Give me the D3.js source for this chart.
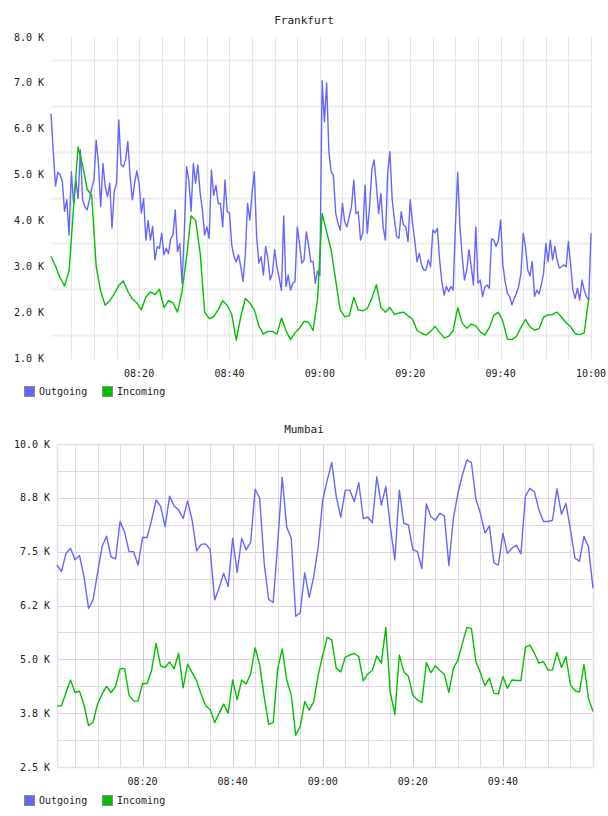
<!DOCTYPE html>
<html><head><meta charset="utf-8">
<script src="https://cdn.jsdelivr.net/npm/d3@7"></script>
<style>
html,body{margin:0;padding:0;background:#fff;}
text{font-family:"DejaVu Sans Mono",monospace;}
</style></head>
<body><svg id="c" width="608" height="816"></svg>
<script>
// ---------------- DATA ----------------
const seriesNames = ["Outgoing", "Incoming"];
const seriesColors = ["#6666ff", "#00c000"];

// Frankfurt: outgoing sampled every 30 s, incoming every 60 s, from 08:00:30
const fraStart = "08:00:30";
const fraOutgoing = [
6.33,5.5,4.75,5.05,5.0,4.85,4.2,4.45,3.68,5.06,
4.37,4.88,4.48,5.54,4.45,4.3,4.23,4.45,4.7,4.88,
5.75,5.24,4.3,5.24,4.74,4.52,4.81,3.83,4.63,4.81,
6.19,5.21,5.17,5.32,5.72,4.97,4.45,4.81,5.08,4.81,
4.16,4.48,3.57,4.0,3.57,3.87,3.14,3.43,3.39,3.72,
3.25,3.39,3.28,3.61,3.68,4.23,3.32,3.5,2.63,3.72,
5.17,4.88,4.2,5.24,4.81,5.21,4.6,4.23,3.68,3.86,
3.61,5.1,4.55,4.77,4.37,4.37,3.86,4.88,4.19,4.16,
3.46,3.21,3.1,3.25,2.99,2.67,3.25,4.37,4.01,4.59,
5.06,3.65,3.07,3.21,2.81,3.43,3.17,2.7,2.85,3.36,
2.99,2.74,2.47,4.1,2.56,2.81,2.48,2.63,2.67,3.86,
3.5,3.07,3.14,3.75,3.46,3.1,3.1,2.63,2.9,2.8,
7.05,6.15,7.0,5.5,5.06,4.99,4.16,3.94,3.79,4.37,
3.97,3.86,4.08,4.3,4.88,4.15,4.19,3.57,3.72,4.77,
3.72,4.3,5.1,5.32,4.77,4.15,4.59,3.86,3.57,5.03,
5.5,4.45,4.02,3.65,3.61,4.19,3.9,3.86,3.54,4.45,
3.94,3.57,3.1,3.28,3.03,2.92,2.92,3.14,2.99,3.79,
3.73,3.83,3.14,2.66,2.37,2.56,2.45,2.56,2.48,3.9,
5.05,3.86,3.21,2.7,2.92,3.36,2.99,2.59,3.86,2.63,
2.7,2.34,2.54,2.59,2.52,3.6,3.57,3.43,3.57,4.01,
3.03,2.66,2.41,2.34,2.16,2.3,2.41,2.56,2.85,3.72,
3.43,2.92,2.79,3.1,2.34,2.48,2.4,2.59,2.85,3.5,
3.1,3.57,3.14,3.43,3.14,2.96,2.99,3.03,2.99,3.54,
3.03,2.48,2.3,2.52,2.26,2.7,2.48,2.34,2.26,3.72];
const fraIncoming = [
3.22,3.0,2.75,2.57,2.9,4.3,5.6,5.2,4.68,4.55,
3.0,2.45,2.15,2.25,2.4,2.58,2.68,2.45,2.29,2.2,
2.05,2.33,2.44,2.38,2.5,2.1,2.25,2.2,2.0,2.45,
3.2,4.1,4.0,3.3,2.0,1.86,1.9,2.05,2.25,2.15,
1.95,1.39,1.9,2.3,2.2,2.05,1.7,1.52,1.58,1.58,
1.52,1.87,1.6,1.4,1.55,1.65,1.8,1.78,1.6,2.3,
4.15,3.75,3.35,2.7,2.05,1.9,1.92,2.32,2.05,2.03,
2.08,2.3,2.6,2.1,2.0,2.1,1.95,1.98,2.0,1.92,
1.85,1.6,1.54,1.5,1.58,1.69,1.56,1.44,1.47,1.6,
2.1,1.76,1.65,1.74,1.7,1.57,1.5,1.66,1.93,2.0,
1.8,1.41,1.4,1.47,1.67,1.84,1.68,1.61,1.64,1.89,
1.94,1.95,2.0,1.89,1.77,1.68,1.53,1.51,1.55,2.3];
const fraYTicks = [1,2,3,4,5,6,7,8];
const fraYLabels = ["1.0 K","2.0 K","3.0 K","4.0 K","5.0 K","6.0 K","7.0 K","8.0 K"];
const fraXLabels = ["08:20","08:40","09:00","09:20","09:40","10:00"];

// Mumbai: both series sampled every 60 s from 08:01
const mumStart = "08:01:00";
const mumOutgoing = [
7.19,7.04,7.46,7.58,7.31,7.41,6.92,6.18,6.38,7.0,
7.62,7.86,7.38,7.33,8.2,7.96,7.5,7.5,7.19,7.83,
7.83,8.23,8.7,8.55,8.08,8.79,8.56,8.47,8.27,8.68,
8.23,7.52,7.67,7.68,7.55,6.38,6.66,7.0,6.69,7.81,
7.02,7.81,7.54,7.72,8.95,8.74,7.23,6.39,6.32,7.69,
9.23,8.07,7.81,6.0,6.08,7.01,6.44,6.92,7.62,8.7,
9.16,9.57,8.78,8.3,8.93,8.93,8.66,9.1,8.27,8.3,
8.17,9.24,8.58,9.01,8.08,7.31,8.93,8.16,8.12,7.55,
7.5,7.11,8.61,8.31,8.23,8.39,8.33,7.18,8.27,8.85,
9.28,9.63,9.57,8.72,8.39,7.93,8.1,7.24,7.19,7.93,
7.46,7.58,7.65,7.45,8.79,8.97,8.89,8.47,8.2,8.2,
8.23,8.96,8.37,8.62,8.0,7.35,7.28,7.86,7.6,6.65];
const mumIncoming = [
3.92,3.92,4.23,4.52,4.23,4.26,3.94,3.46,3.54,3.96,
4.19,4.37,4.23,4.37,4.78,4.79,4.17,4.03,4.03,4.44,
4.44,4.74,5.37,4.85,4.81,4.94,4.78,5.14,4.34,4.89,
4.69,4.5,4.19,3.92,3.84,3.53,3.75,3.96,3.75,4.52,
4.06,4.52,4.43,4.66,5.27,4.87,4.13,3.49,3.53,4.79,
5.24,4.52,4.17,3.24,3.44,4.02,3.82,4.02,4.64,5.1,
5.51,5.45,4.79,4.71,5.05,5.1,5.14,5.06,4.5,4.66,
4.74,5.08,4.91,5.74,4.23,3.72,5.1,4.71,4.61,4.17,
4.06,4.0,4.92,4.69,4.85,4.74,4.65,4.23,4.79,4.98,
5.37,5.74,5.72,4.95,4.69,4.39,4.56,4.21,4.2,4.6,
4.33,4.52,4.51,4.51,5.28,5.33,5.14,4.91,4.95,4.75,
4.75,5.16,4.81,5.06,4.4,4.27,4.24,4.88,4.09,3.79];
const mumYTicks = [2.5,3.75,5,6.25,7.5,8.75,10];
const mumYLabels = ["2.5 K","3.8 K","5.0 K","6.2 K","7.5 K","8.8 K","10.0 K"];
const mumXLabels = ["08:20","08:40","09:00","09:20","09:40"];

// ---------------- DRAW ----------------
const parseT = d3.timeParse("%H:%M:%S");
const fmtT = d3.timeFormat("%H:%M");
function times(start, n, stepSec){
  const t0 = parseT(start).getTime();
  return d3.range(n).map(i => new Date(t0 + i*stepSec*1000));
}
const svg = d3.select("#c");

function drawChart(o){
  const g = svg.append("g");
  const x = d3.scaleTime().domain(o.xDomain).range([o.left, o.right]);
  const y = d3.scaleLinear().domain(o.yDomain).range([o.bottom, o.top]);

  // title
  g.append("text").attr("x", 304).attr("y", o.titleY).attr("text-anchor","middle")
    .attr("font-size", 11).attr("fill", "#222").text(o.title);

  // grid
  const vt = x.ticks(d3.timeMinute.every(5));
  if (o.style === "gray") {
    g.selectAll(".hg").data(o.hGrid).join("line")
      .attr("x1", o.left).attr("x2", o.right+1)
      .attr("y1", d => Math.round(y(d))+0.5).attr("y2", d => Math.round(y(d))+0.5)
      .attr("stroke", "#eeeeee").attr("stroke-width", 2);
    g.selectAll(".vg").data(vt).join("line")
      .attr("x1", d => Math.round(x(d))+0.5).attr("x2", d => Math.round(x(d))+0.5)
      .attr("y1", o.top).attr("y2", o.bottom+1)
      .attr("stroke", "#e6e6e6").attr("stroke-width", 1);
  } else {
    g.selectAll(".hg").data(o.hGrid).join("line")
      .attr("x1", o.left).attr("x2", o.right)
      .attr("y1", d => Math.round(y(d))+0.5).attr("y2", d => Math.round(y(d))+0.5)
      .attr("stroke", "#e2dae2").attr("stroke-width", 1);
    g.selectAll(".hgm").data(o.yTicks).join("line")
      .attr("x1", o.left).attr("x2", o.right)
      .attr("y1", d => Math.round(y(d))+0.5).attr("y2", d => Math.round(y(d))+0.5)
      .attr("stroke", "#e4cce4").attr("stroke-width", 1);
    g.selectAll(".vg").data(vt).join("line")
      .attr("x1", d => Math.round(x(d))+0.5).attr("x2", d => Math.round(x(d))+0.5)
      .attr("y1", o.top).attr("y2", o.bottom)
      .attr("stroke", d => d.getMinutes() % 20 === 0 ? "#dcc4dc" : "#e2dae2").attr("stroke-width", 1);
    g.append("rect").attr("x", o.left+0.5).attr("y", o.top+0.5)
      .attr("width", o.right-o.left).attr("height", o.bottom-o.top)
      .attr("fill","none").attr("stroke","#eedcee").attr("stroke-width",1.5);
  }

  // y labels
  g.selectAll(".yl").data(o.yTicks).join("text")
    .attr("x", o.left-7).attr("y", d => y(d)+3.5).attr("text-anchor","end")
    .attr("font-size", 10).attr("fill", "#222")
    .text((d,i) => o.yLabels[i]);

  // x labels
  g.selectAll(".xl").data(o.xLabels).join("text")
    .attr("x", d => x(parseT(d+":00"))).attr("y", o.xLabelY).attr("text-anchor","middle")
    .attr("font-size", 10).attr("fill", "#222").text(d => d);

  // lines
  o.series.forEach((s, si) => {
    const pts = s.values.map((v,i) => [s.t[i], v]);
    const line = d3.line().x(d => x(d[0])).y(d => y(d[1]));
    g.append("path").attr("d", line(pts)).attr("fill","none")
      .attr("stroke", seriesColors[si]).attr("stroke-width", 1.4)
      .attr("stroke-linejoin","round");
  });

  // legend
  const lg = g.append("g");
  const lx = [24, 102];
  seriesNames.forEach((n, i) => {
    lg.append("rect").attr("x", lx[i]+0.5).attr("y", o.legendY+0.5).attr("width", 10).attr("height", 10)
      .attr("fill", seriesColors[i]).attr("stroke", "#8a8a8a").attr("stroke-width", 1);
    lg.append("text").attr("x", lx[i]+15).attr("y", o.legendY+9).attr("font-size", 10)
      .attr("fill", "#222").text(n);
  });
}

const fraOutT = times(fraStart, fraOutgoing.length, 30);
const fraInT = times(fraStart, fraIncoming.length, 60);
drawChart({
  title: "Frankfurt", titleY: 24, style: "gray",
  left: 51, right: 591, top: 37, bottom: 358,
  xDomain: [parseT(fraStart), parseT("10:00:00")],
  yDomain: [1, 8],
  yTicks: fraYTicks, yLabels: fraYLabels,
  hGrid: [1.5,2.5,3.5,4.5,5.5,6.5,7.5],
  xLabels: fraXLabels, xLabelY: 377, legendY: 386,
  series: [{t: fraOutT, values: fraOutgoing}, {t: fraInT, values: fraIncoming}]
});

const mumT = times(mumStart, mumOutgoing.length, 60);
drawChart({
  title: "Mumbai", titleY: 433, style: "pink",
  left: 57, right: 593, top: 444, bottom: 767,
  xDomain: [parseT(mumStart), parseT("10:00:00")],
  yDomain: [2.5, 10],
  yTicks: mumYTicks, yLabels: mumYLabels,
  hGrid: [3.125,4.375,5.625,6.875,8.125,9.375],
  xLabels: mumXLabels, xLabelY: 785, legendY: 795,
  series: [{t: mumT, values: mumOutgoing}, {t: mumT, values: mumIncoming}]
});
</script></body></html>
